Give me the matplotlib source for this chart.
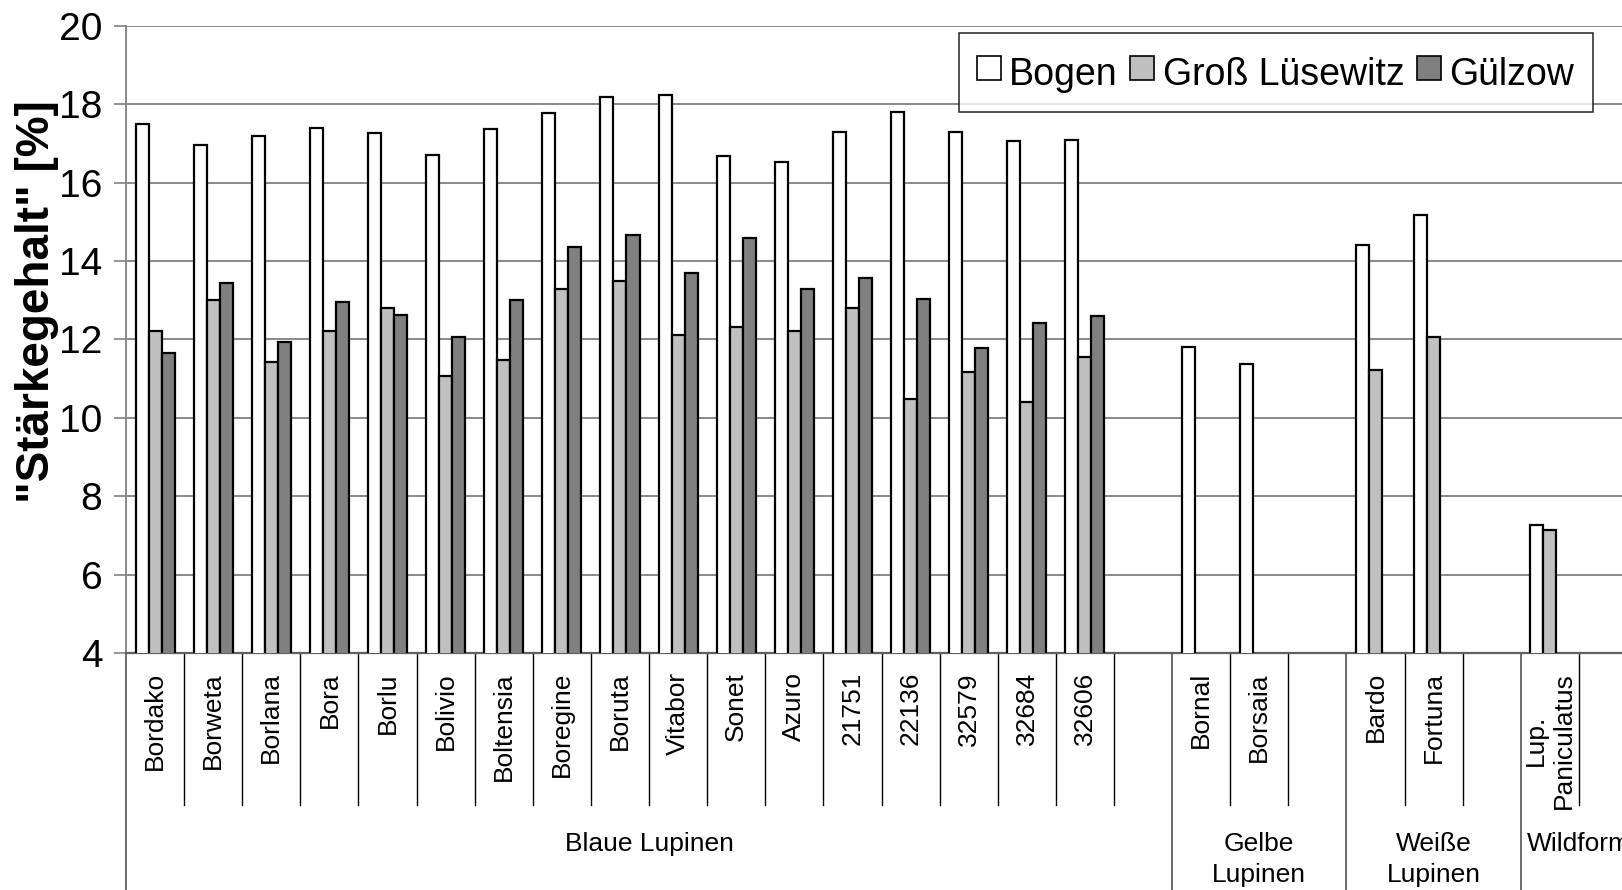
import matplotlib.pyplot as plt
from matplotlib.lines import Line2D
import numpy as np

plt.rcParams['font.family'] = ['Liberation Sans', 'DejaVu Sans']

nan = np.nan

# Sorten (leere Eintraege = Abstand zwischen den Gruppen)
sorten = ["Bordako", "Borweta", "Borlana", "Bora", "Borlu", "Bolivio", "Boltensia",
          "Boregine", "Boruta", "Vitabor", "Sonet", "Azuro", "21751", "22136",
          "32579", "32684", "32606", "",
          "Bornal", "Borsaia", "",
          "Bardo", "Fortuna", "",
          "Lup.\nPaniculatus", ""]

bogen = [17.5, 16.95, 17.18, 17.4, 17.27, 16.7, 17.36, 17.76, 18.18, 18.23,
         16.67, 16.53, 17.3, 17.8, 17.3, 17.07, 17.08, nan,
         11.82, 11.38, nan,
         14.42, 15.18, nan,
         7.27, nan]
gross_luesewitz = [12.22, 13.0, 11.42, 12.22, 12.79, 11.06, 11.48, 13.29, 13.49, 12.12,
                   12.33, 12.22, 12.81, 10.48, 11.16, 10.41, 11.54, nan,
                   nan, nan, nan,
                   11.21, 12.05, nan,
                   7.15, nan]
guelzow = [11.65, 13.45, 11.94, 12.96, 12.62, 12.06, 13.0, 14.36, 14.65, 13.69,
           14.58, 13.29, 13.57, 13.02, 11.79, 12.42, 12.61, nan,
           nan, nan, nan,
           nan, nan, nan,
           nan, nan]

gruppen = ["Blaue Lupinen", "Gelbe\nLupinen", "Weiße\nLupinen", "Wildform"]
gruppen_anzahl = [18, 3, 3, 2]

serien = ["Bogen", "Groß Lüsewitz", "Gülzow"]
farben = ["white", "#c0c0c0", "#808080"]

W, H = 1622, 890
fig = plt.figure(figsize=(W / 100, H / 100), dpi=100)
# Achse geht rechts ueber den Bildrand hinaus (wie im Original abgeschnitten)
ax_l, ax_r, ax_t, ax_b = 126, 1637, 25.6, 653.3
ax = fig.add_axes([ax_l / W, 1 - ax_b / H, (ax_r - ax_l) / W, (ax_b - ax_t) / H])
ax_h = ax_b - ax_t


def fy(px):
    # pixel unterhalb der x-Achse -> Achsenbruchteil
    return -px / ax_h


x = np.arange(len(sorten))
bw = 0.224
for k, (werte, farbe) in enumerate(zip([bogen, gross_luesewitz, guelzow], farben)):
    werte = np.array(werte, dtype=float)
    ok = ~np.isnan(werte)
    ax.bar(x[ok] + 0.5 + (k - 1) * bw, werte[ok], width=bw, color=farbe,
           edgecolor="black", linewidth=1.6, zorder=3)

ax.set_xlim(0, len(sorten))
ax.set_ylim(4, 20)
ax.set_yticks(range(4, 21, 2))
ax.tick_params(axis="y", labelsize=28, length=9, width=1.2, color="#808080", pad=8)
ax.set_xticks([])
ax.yaxis.grid(True, color="#808080", linewidth=1.3)
ax.set_axisbelow(True)
for s in ["top", "right"]:
    ax.spines[s].set_visible(False)
ax.spines["left"].set_color("#808080")
ax.spines["left"].set_linewidth(1.3)
ax.spines["bottom"].set_color("#606060")
ax.spines["bottom"].set_linewidth(1.6)

tr = ax.get_xaxis_transform()

# Trennlinien Kategorien und Gruppen
grenzen = np.cumsum([0] + gruppen_anzahl)
for i in range(1, len(sorten) + 1):
    if i in grenzen:
        continue
    ax.plot([i, i], [0, fy(805 - ax_b)], transform=tr, color="black",
            linewidth=1.0, clip_on=False)
for g in grenzen:
    ax.plot([g, g], [0, fy(400)], transform=tr, color="#606060",
            linewidth=1.3, clip_on=False)

# Sortennamen
for i, name in enumerate(sorten):
    ax.text(i + 0.5, fy(672 - ax_b), name, transform=tr, rotation=90,
            ha="center", va="top", multialignment="center", fontsize=19)

# Gruppennamen
for g, name in enumerate(gruppen):
    mitte = (grenzen[g] + grenzen[g + 1]) / 2
    ax.text(mitte, fy(832 - ax_b), name, transform=tr, ha="center", va="top",
            multialignment="center", fontsize=19, linespacing=1.35)

fig.text(37 / W, 1 - 302 / H, '"Stärkegehalt" [%]', rotation=90, ha="center",
         va="center", fontsize=33, fontweight="bold")

handles = [Line2D([], [], marker="s", linestyle="none", markersize=17,
                  markerfacecolor=f, markeredgecolor="black", markeredgewidth=1.2)
           for f in farben]
leg = fig.legend(handles, serien, loc="upper right", ncol=3,
                 bbox_to_anchor=(1593 / W, 1 - 33 / H), borderaxespad=0,
                 fontsize=27, frameon=True, fancybox=False, edgecolor="black",
                 handlelength=0.6, handleheight=1.3, handletextpad=0.25,
                 columnspacing=0.35, borderpad=0.5)
leg.get_frame().set_linewidth(1.2)

fig.savefig("out.png", dpi=100)
